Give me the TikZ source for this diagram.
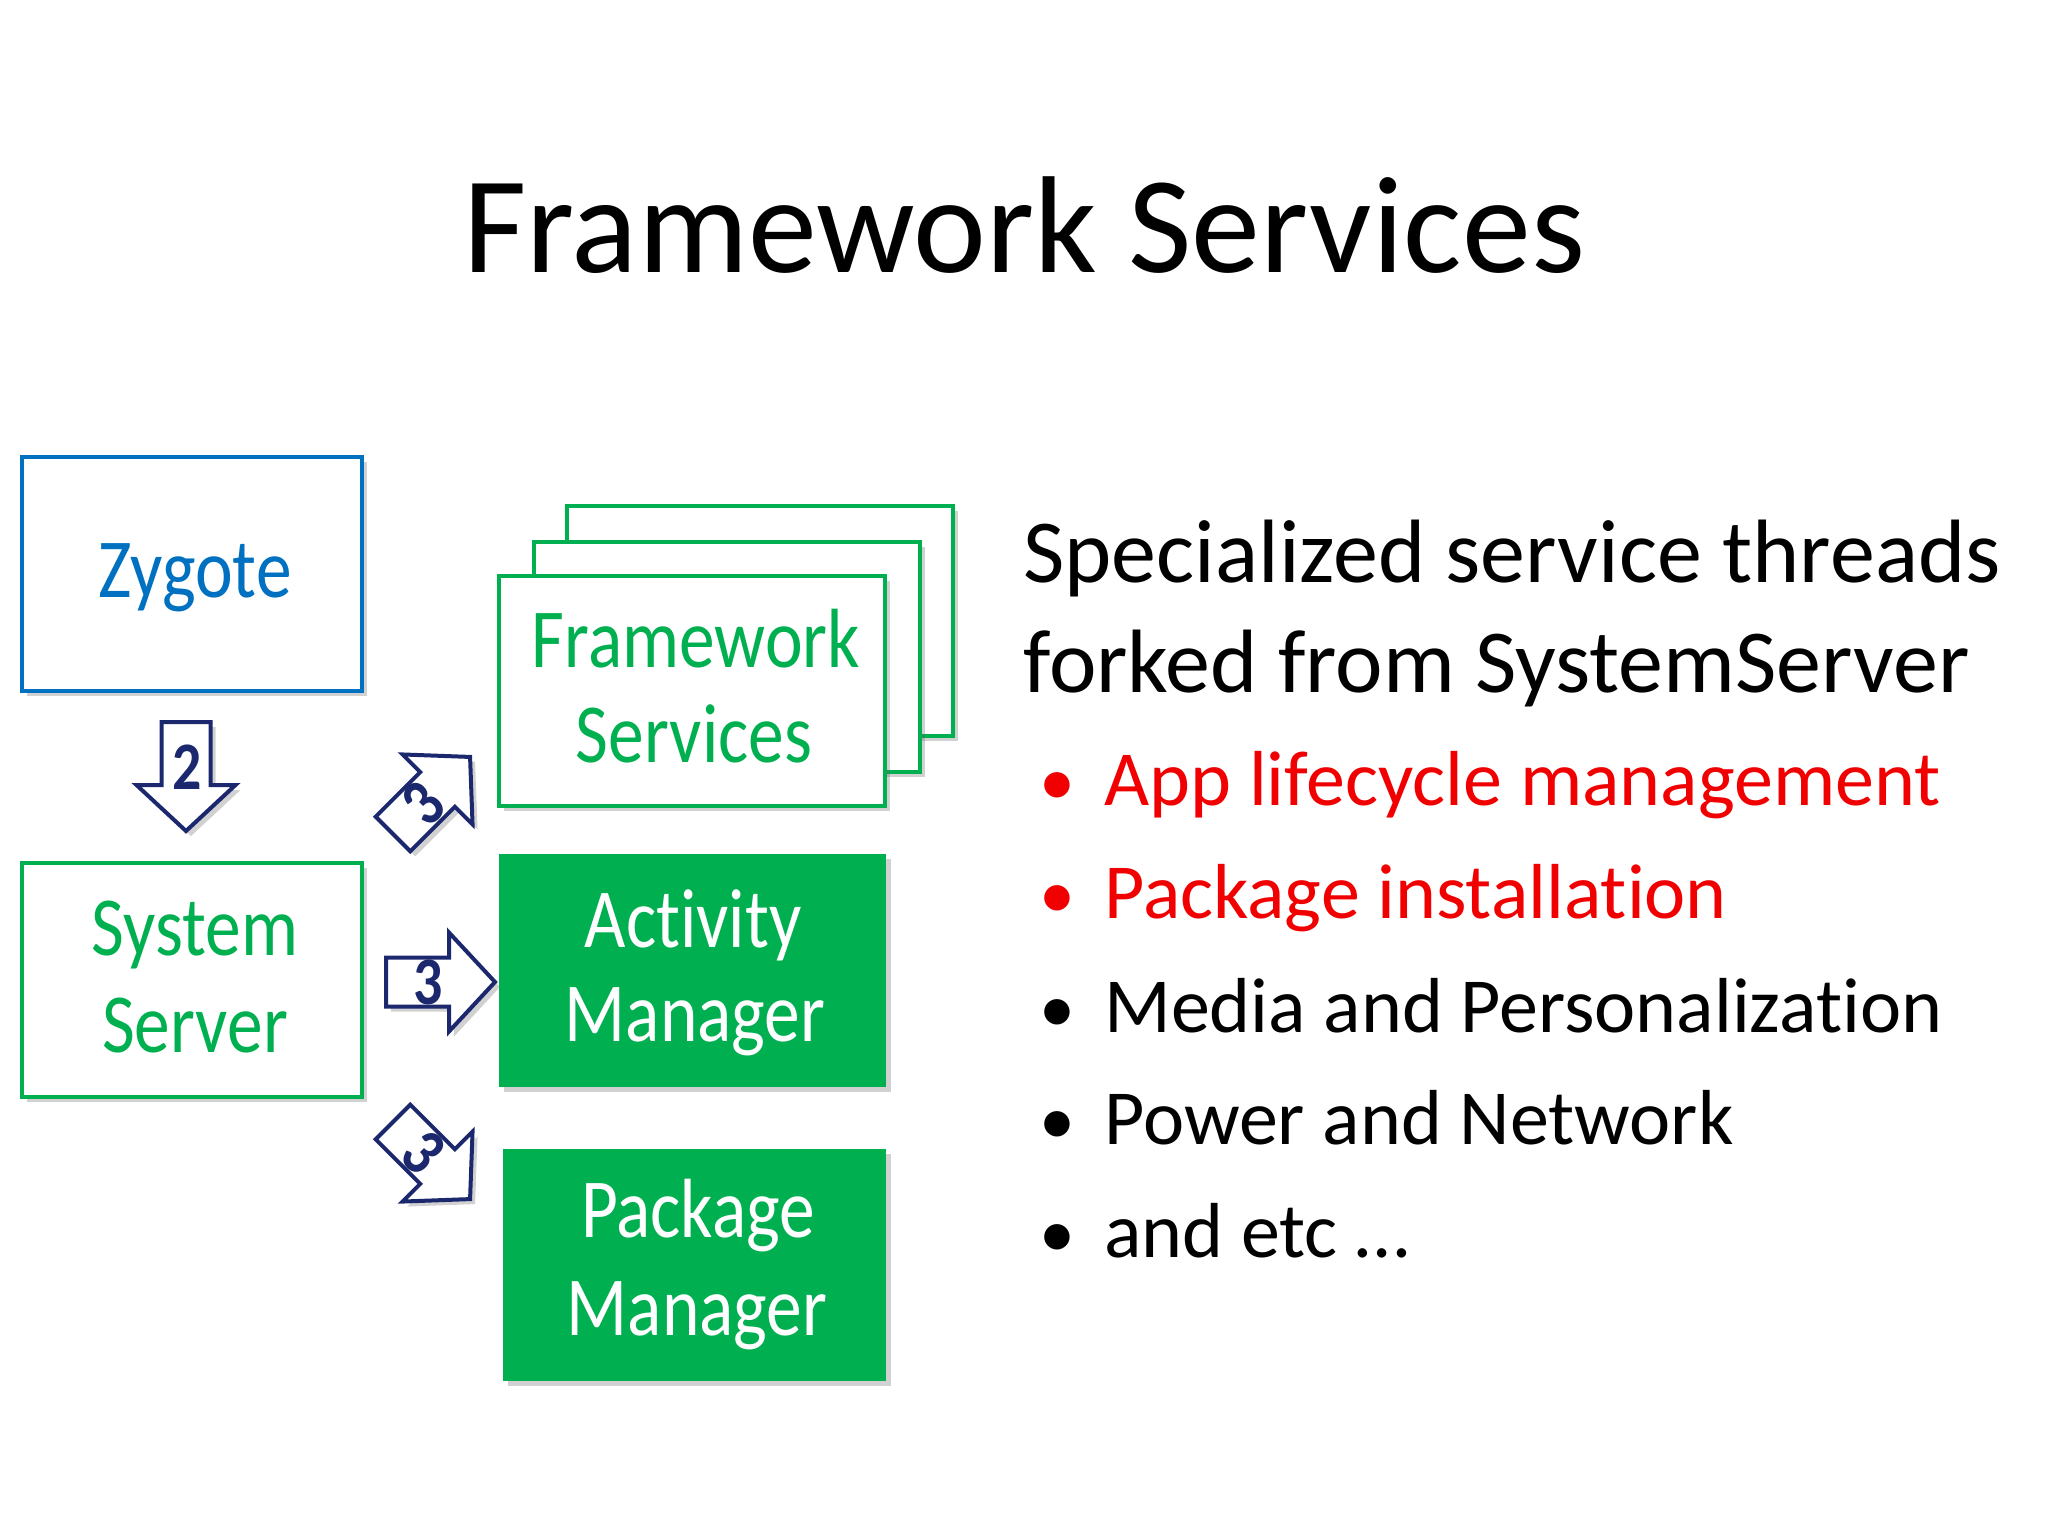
\documentclass[tikz,border=0pt]{standalone}
\usepackage{fontspec}
\setmainfont[Ligatures=NoCommon]{Carlito}
\usetikzlibrary{shadows}
\definecolor{zblue}{RGB}{0,112,192}
\definecolor{sgreen}{RGB}{0,176,80}
\definecolor{navy}{RGB}{28,40,110}
\definecolor{bred}{RGB}{240,0,0}
\newcommand{\nx}[1]{\scalebox{0.85}[1]{#1}}
\begin{document}
\begin{tikzpicture}[x=0.5pt,y=-0.5pt,
  shad/.style={drop shadow={shadow xshift=2.5pt,shadow yshift=-2.5pt,opacity=0.3,fill=black!60}},
  outline/.style={draw=#1,line width=2pt,fill=white,shad,inner sep=0pt},
  filled/.style={fill=sgreen,draw=none,shad,inner sep=0pt},
  lab/.style={font=\fontsize{42}{42}\selectfont,inner sep=0pt,anchor=base},
  numtext/.style={font=\bfseries\fontsize{34}{34}\selectfont,text=navy,inner sep=0pt},
  body/.style={font=\fontsize{45}{45}\selectfont,inner sep=0pt,anchor=base west},
  bul/.style={font=\fontsize{39}{39}\selectfont,inner sep=0pt,anchor=base west},
  buldot/.style={font=\fontsize{36}{36}\selectfont,inner sep=0pt,anchor=base},
  blockarrow/.pic={
    \draw[navy,line width=2pt,fill=white,line join=miter,shad]
      (0,-24.5) -- (63,-24.5) -- (63,-49.5) -- (109,0) -- (63,49.5) -- (63,24.5) -- (0,24.5) -- cycle;
  }
]
\useasboundingbox (0,0) rectangle (2048,1536);

% title
\node[font=\fontsize{69}{69}\selectfont,inner sep=0pt,anchor=base] (title) at (1024,272) {Framework Services};

% left boxes
\node[outline=zblue,minimum width=170pt,minimum height=117pt] (zyg) at (192,573.5) {};
\node[lab,text=zblue] (zygl) at (195,597) {\nx{Zygote}};

\node[outline=sgreen,minimum width=170pt,minimum height=117pt] (sys) at (192,980) {};
\node[lab,text=sgreen] (sysl1) at (195,955) {\nx{System}};
\node[lab,text=sgreen] (sysl2) at (195,1052) {\nx{Server}};

% framework services stack
\node[outline=sgreen,minimum width=193pt,minimum height=115pt] (fs3) at (760,621) {};
\node[outline=sgreen,minimum width=193pt,minimum height=115pt] (fs2) at (726.5,657) {};
\node[outline=sgreen,minimum width=193pt,minimum height=115pt] (fs1) at (692,690.5) {};
\node[lab,text=sgreen] (fsl1) at (696,667) {\nx{Framework}};
\node[lab,text=sgreen] (fsl2) at (694,762) {\nx{Services}};

% activity manager
\node[filled,minimum width=193.5pt,minimum height=116.5pt] (act) at (692.5,970.5) {};
\node[lab,text=white] (actl1) at (693,947) {\nx{Activity}};
\node[lab,text=white] (actl2) at (695,1041) {\nx{Manager}};

% package manager
\node[filled,minimum width=191.5pt,minimum height=116pt] (pkg) at (694.5,1265) {};
\node[lab,text=white] (pkgl1) at (698,1237) {\nx{Package}};
\node[lab,text=white] (pkgl2) at (697,1335) {\nx{Manager}};

% block arrows
\pic[rotate=-90] (ar2) at (186,722) {blockarrow};
\pic[rotate=45] (ar3a) at (393,834) {blockarrow};
\pic (ar3b) at (386,982) {blockarrow};
\pic[rotate=-45] (ar3c) at (393,1122) {blockarrow};
\node[numtext] (n2) at (187,767) {\nx{2}};
\node[numtext,rotate=45] (n3a) at (423,804) {\nx{3}};
\node[numtext] (n3b) at (428,982) {\nx{3}};
\node[numtext,rotate=-45] (n3c) at (423,1152) {\nx{3}};

% right text
\node[body] (t1) at (1023,582) {Specialized service threads};
\node[body] (t2) at (1023,692) {forked from SystemServer};

\node[buldot,text=bred] (d1) at (1057,805) {•};
\node[bul,text=bred] (b1) at (1104,805) {App lifecycle management};
\node[buldot,text=bred] (d2) at (1057,918) {•};
\node[bul,text=bred] (b2) at (1104,918) {Package installation};
\node[buldot] (d3) at (1057,1032) {•};
\node[bul] (b3) at (1104,1032) {Media and Personalization};
\node[buldot] (d4) at (1057,1144) {•};
\node[bul] (b4) at (1104,1144) {Power and Network};
\node[buldot] (d5) at (1057,1257) {•};
\node[bul] (b5) at (1104,1257) {and etc …};
\end{tikzpicture}
\end{document}
